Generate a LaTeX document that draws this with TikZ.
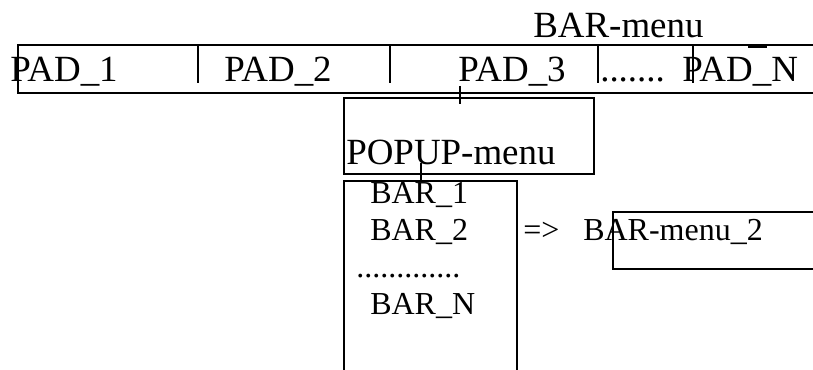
\documentclass[tikz,border=0pt]{standalone}
\usepackage{fontspec}
\setmainfont{Liberation Serif}
\usetikzlibrary{calc}

\tikzset{
  box/.style={line width=1.5pt},
  tick/.style={line width=1.3pt},
  bigtxt/.style={anchor=base west, inner sep=0pt, font=\fontsize{27.7}{30}\selectfont},
  smalltxt/.style={anchor=base west, inner sep=0pt, font=\fontsize{24}{28}\selectfont}
}

\begin{document}
\begin{tikzpicture}[x=0.75pt, y=-0.75pt]
			%%%%% FRAME %%%%%
			\useasboundingbox (0, 0) rectangle (813, 370);
			\clip (0, 0) rectangle (813, 370);
			
			%%%%% BAR-menu %%%%%
			\node[bigtxt] (barmenu) at (533, 38) {BAR-menu};
			\draw[box] (18, 45) rectangle (830, 93);
			
			\draw[tick] (198, 45) -- (198, 83);
			\draw[tick] (390, 45) -- (390, 83);
			\draw[tick] (598, 45) -- (598, 83);
			\draw[tick] (693, 45) -- (693, 83);
			\draw[tick] (748, 47) -- (767, 47);
			
			\node[bigtxt] (pad1) at (10, 82) {PAD\_1};
			\node[bigtxt] (pad2) at (224, 82) {PAD\_2};
			\node[bigtxt] (pad3) at (458, 82) {PAD\_3};
			\node[bigtxt] (paddots) at (600, 82) {.......};
			\node[bigtxt] (padn) at (682, 82) {PAD\_N};
			
			%%%%% POPUP-menu %%%%%
			\draw[box] (344, 98) rectangle (594, 174);
			\node[bigtxt] (popup) at (346, 165) {POPUP-menu};
			
			\coordinate (padlink) at (460, 86);
			\coordinate (popuplink) at (460, 104);
			\draw[tick] (padlink) -- (popuplink);
			
			%%%%% BAR list %%%%%
			\draw[box] (344, 181) rectangle (517, 400);
			\coordinate (popupfoot) at (421, 163);
			\coordinate (listtop) at (421, 181);
			\draw[tick] (popupfoot) -- (listtop);
			
			\node[smalltxt] (bar1) at (370, 204) {BAR\_1};
			\node[smalltxt] (bar2) at (370, 241) {BAR\_2};
			\node[smalltxt] (bardots) at (356, 277) {.............};
			\node[smalltxt] (barn) at (370, 314) {BAR\_N};
			
			%%%%% BAR-menu_2 %%%%%
			\node[smalltxt] (arrow) at (523, 241) {=>};
			\node[smalltxt] (barmenu2) at (583, 241) {BAR-menu\_2};
			\draw[box] (613, 212) rectangle (830, 269);
			
		\end{tikzpicture}
\end{document}
